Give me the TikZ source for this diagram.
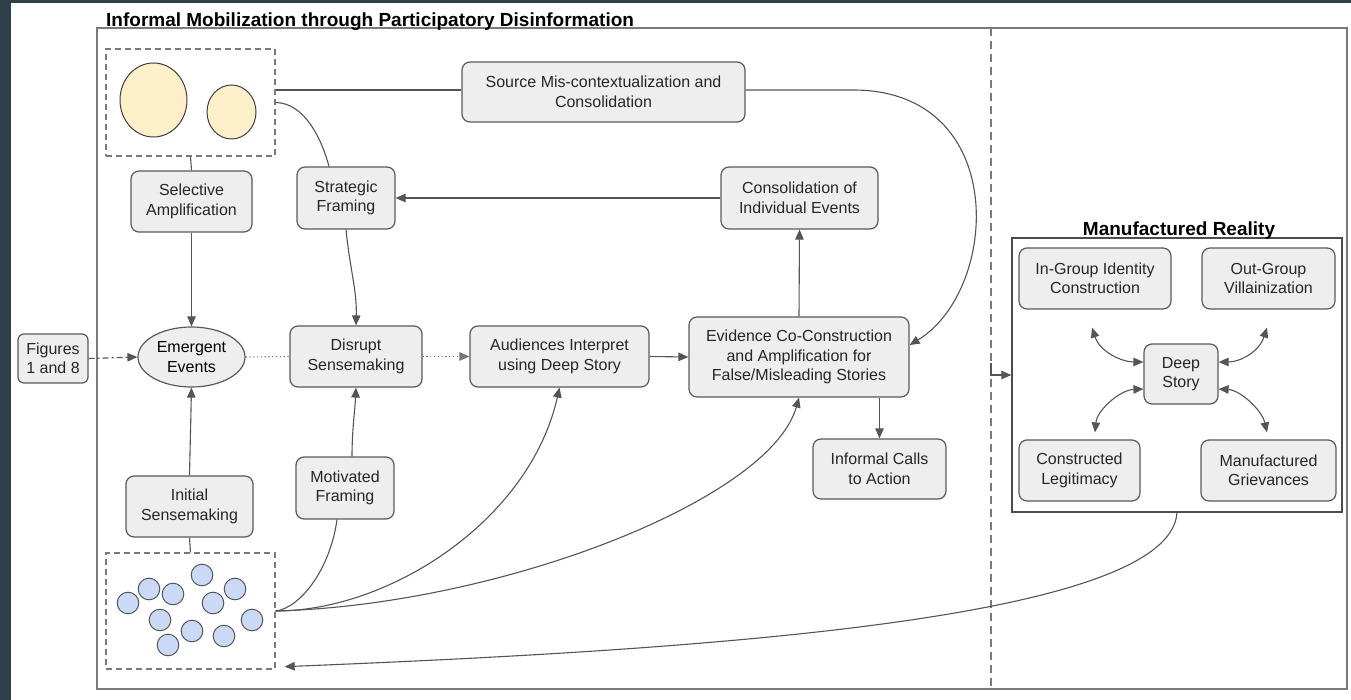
\documentclass[tikz,border=0pt]{standalone}
\usepackage{fontspec}
\setmainfont{Liberation Sans}
\usetikzlibrary{arrows.meta,shapes.geometric}
\definecolor{slate}{HTML}{2F3F49}
\definecolor{boxfill}{HTML}{EEEEEE}
\definecolor{boxline}{HTML}{5A5A5A}
\definecolor{linkcol}{HTML}{555555}
\definecolor{framecol}{HTML}{7A7A7A}
\definecolor{sandfill}{HTML}{FDF0C8}
\definecolor{skyfill}{HTML}{C9D9F6}
\newcommand\boxfont{\fontsize{16}{19.5}\selectfont}
\newcommand\headfont{\bfseries\fontsize{19}{22}\selectfont}
\tikzset{
  card/.style={draw=boxline,fill=boxfill,rounded corners=8pt,line width=1.2pt,align=center,font=\boxfont,text=black!85,inner sep=2pt},
  dashbox/.style={draw=framecol,line width=1.3pt,dash pattern=on 6pt off 4pt,inner sep=0pt},
  link/.style={draw=linkcol,line width=1.1pt},
  arr/.style={link,-{Triangle[length=10pt,width=8.5pt]}},
  twoarr/.style={link,{Triangle[length=10pt,width=8.5pt]}-{Triangle[length=10pt,width=8.5pt]}},
  dotline/.style={draw=linkcol!80,line width=1.1pt,dash pattern=on 1.2pt off 2.6pt}
}
\begin{document}
\begin{tikzpicture}[x=1pt,y=-1pt]
	\useasboundingbox (0,0) rectangle (1351,700);
	\fill[white] (0,0) rectangle (1351,700);
	\fill[slate] (0,0) rectangle (11,700);
	\fill[slate] (0,0) rectangle (1351,3);
	% outer frame and divider
	\draw[framecol,line width=1.5pt] (97,28) rectangle (1347,689);
	\draw[framecol,line width=1.3pt,dash pattern=on 8pt off 5pt] (991,28) -- (991,689);
	\node[anchor=base west,inner sep=0pt,font=\headfont] (maintitle) at (106,27) {Informal Mobilization through Participatory Disinformation};
	% sources and crowd
	\node[dashbox,minimum width=169pt,minimum height=107pt] (srcgrp) at (190.5,102.5) {};
	\draw[fill=sandfill,draw=black!75,line width=1pt] (153.5,100) ellipse [x radius=33.5pt, y radius=37pt];
	\draw[fill=sandfill,draw=black!75,line width=1pt] (231.5,112) ellipse [x radius=24.5pt, y radius=27pt];
	\node[dashbox,minimum width=169pt,minimum height=116pt] (crowd) at (190.5,611) {};
	\foreach \cx/\cy in {128/603,149/589,173/594,202/575,235/589,213/603,160/620,192/631,168/645,224/636,252/620}
		\draw[fill=skyfill,draw=black!65,line width=1pt] (\cx,\cy) circle[radius=10.8pt];
	% boxes
	\node[card,minimum width=121pt,minimum height=61pt] (selamp) at (191.5,201.5) {Selective\\Amplification};
	\node[card,minimum width=98pt,minimum height=62pt] (stratfr) at (346,198) {Strategic\\Framing};
	\node[card,minimum width=283pt,minimum height=60pt] (srcmis) at (603.5,92) {Source Mis-contextualization and\\Consolidation};
	\node[card,minimum width=157pt,minimum height=62pt] (consol) at (799.5,198) {Consolidation of\\Individual Events};
	\node[card,rounded corners=6pt,minimum width=70pt,minimum height=49pt] (figs) at (53,358.5) {Figures\\1 and 8};
	\node[ellipse,draw=boxline,fill=boxfill,line width=1.2pt,align=center,font=\boxfont,inner sep=0pt,minimum width=107pt,minimum height=60pt] (emerg) at (191.5,357) {Emergent\\Events};
	\node[card,minimum width=132pt,minimum height=61pt] (disrupt) at (356,356.5) {Disrupt\\Sensemaking};
	\node[card,minimum width=179pt,minimum height=61pt] (audint) at (559.5,356.5) {Audiences Interpret\\using Deep Story};
	\node[card,minimum width=220pt,minimum height=80pt] (evid) at (799,357) {Evidence Co-Construction\\and Amplification for\\False/Misleading Stories};
	\node[card,minimum width=133pt,minimum height=60pt] (calls) at (879.5,469) {Informal Calls\\to Action};
	\node[card,minimum width=127pt,minimum height=61pt] (initsm) at (189.5,506.5) {Initial\\Sensemaking};
	\node[card,minimum width=98pt,minimum height=62pt] (motfr) at (345,488) {Motivated\\Framing};
	% manufactured reality
	\node[draw=black!70,line width=1.3pt,minimum width=330pt,minimum height=274pt,inner sep=0pt] (mfbox) at (1177,375) {};
	\node[anchor=base,inner sep=0pt,font=\headfont] (mftitle) at (1179,236) {Manufactured Reality};
	\node[card,minimum width=152pt,minimum height=61pt] (ingrp) at (1095,278.5) {In-Group Identity\\Construction};
	\node[card,minimum width=133pt,minimum height=61pt] (outgrp) at (1268.5,278.5) {Out-Group\\Villainization};
	\node[card,minimum width=74pt,minimum height=60pt] (deep) at (1181,374) {Deep\\Story};
	\node[card,minimum width=121pt,minimum height=61pt] (legit) at (1079.5,470.5) {Constructed\\Legitimacy};
	\node[card,minimum width=135pt,minimum height=61pt] (griev) at (1268.5,470.5) {Manufactured\\Grievances};
	% connectors
	\draw[link] (srcgrp.south) -- (selamp.north);
	\draw[arr] (selamp.south) -- (emerg.north);
	\draw[link] (srcgrp.east |- 0,90) -- (srcmis.west |- 0,90);
	\draw[link] (srcgrp.east) .. controls (305,103) and (322,140) .. ([xshift=-17pt]stratfr.north);
	\draw[arr] (stratfr.south) .. controls (350,270) and (357,290) .. (disrupt.north);
	\draw[arr] (consol.west) -- (stratfr.east);
	\draw[arr] (evid.north) -- (consol.south);
	\draw[arr] (srcmis.east |- 0,90) -- (853,90) .. controls (1010,90) and (1000,290) .. ([yshift=12pt]evid.east);
	\draw[link,dash pattern=on 6pt off 3pt on 2pt off 3pt,-{Triangle[length=10pt,width=8.5pt]}] (figs.east) -- (emerg.west);
	\draw[dotline] (emerg.east) -- (disrupt.west);
	\draw[dotline,-{Triangle[length=10pt,width=8.5pt]}] (disrupt.east) -- (audint.west);
	\draw[arr] (audint.east) -- (evid.west);
	\draw[arr] (calls.north |- evid.south) -- (calls.north);
	\draw[arr] (initsm.north) -- (emerg.south);
	\draw[link] (crowd.north) -- (initsm.south);
	\draw[arr] ([xshift=7pt]motfr.north) .. controls (352,430) and (355,410) .. (disrupt.south);
	\draw[link] (crowd.east) .. controls (300,608) and (330,570) .. ([xshift=-8pt]motfr.south);
	\draw[arr] (crowd.east) .. controls (390,611) and (530,520) .. (audint.south);
	\draw[arr] (crowd.east) .. controls (500,605) and (770,500) .. (evid.south);
	\draw[arr] (mfbox.south) .. controls (1170,620) and (700,650) .. ([xshift=9pt,yshift=3pt]crowd.south east);
	\coordinate (mfin) at (991,363);
	\draw[arr] (mfin) |- (mfbox.west);
	\draw[twoarr] ([xshift=-3pt,yshift=-18pt]ingrp.south) .. controls (1100,352) and (1122,362) .. ([yshift=12pt]deep.west);
	\draw[twoarr] ([xshift=-1.5pt,yshift=-18pt]outgrp.south) .. controls (1259,352) and (1240,362) .. ([yshift=12pt]deep.east);
	\draw[twoarr] ([xshift=15.5pt,yshift=7pt]legit.north) .. controls (1097,410) and (1120,390) .. ([yshift=-15pt]deep.west);
	\draw[twoarr] ([xshift=-1.5pt,yshift=7pt]griev.north) .. controls (1262,410) and (1240,390) .. ([yshift=-15pt]deep.east);
\end{tikzpicture}
\end{document}
